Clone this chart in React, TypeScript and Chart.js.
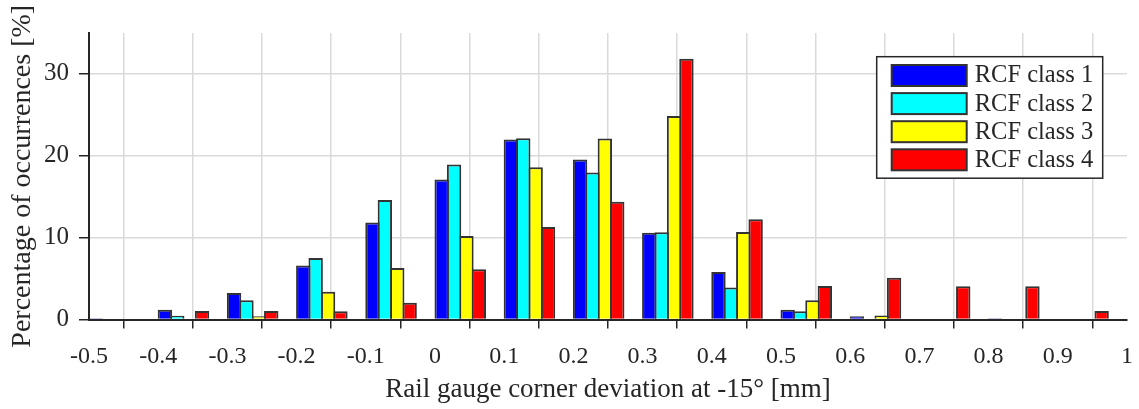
import React, { useEffect, useRef } from 'react';
import { Chart, registerables } from 'chart.js';

Chart.register(...registerables);

// Left edges of the deviation bins [mm]
const binLeftEdges = [-0.5, -0.4, -0.3, -0.2, -0.1, 0, 0.1, 0.2, 0.3, 0.4, 0.5, 0.6, 0.7, 0.8, 0.9];
// Group centre offset from bin left edge [mm]
const groupOffset = 0.0365;

// Percentage of occurrences per RCF class
const rcfClass1 = [0.15, 1.2, 3.25, 6.6, 11.85, 17.1, 22.0, 19.55, 10.6, 5.8, 1.2, 0.4, 0, 0.15, 0];
const rcfClass2 = [0, 0.45, 2.35, 7.5, 14.6, 18.95, 22.15, 17.95, 10.65, 3.9, 1.0, 0, 0, 0, 0];
const rcfClass3 = [0, 0, 0.4, 3.4, 6.3, 10.2, 18.6, 22.1, 24.85, 10.7, 2.35, 0.5, 0, 0, 0];
const rcfClass4 = [0, 1.05, 1.05, 1.0, 2.05, 6.15, 11.3, 14.4, 31.85, 12.25, 4.1, 5.1, 4.05, 4.05, 1.05];

const seriesLabels = ['RCF class 1', 'RCF class 2', 'RCF class 3', 'RCF class 4'];
const seriesColors = ['#0000ff', '#00ffff', '#ffff00', '#ff0000'];

const xTickValues = [-0.5, -0.4, -0.3, -0.2, -0.1, 0, 0.1, 0.2, 0.3, 0.4, 0.5, 0.6, 0.7, 0.8, 0.9, 1];
const xTickLabels = ['-0.5', '-0.4', '-0.3', '-0.2', '-0.1', '0', '0.1', '0.2', '0.3', '0.4', '0.5', '0.6', '0.7', '0.8', '0.9', '1'];
const yTickValues = [0, 10, 20, 30];
const yTickLabels = ['0', '10', '20', '30'];

const xTitle = 'Rail gauge corner deviation at -15\u00b0 [mm]';
const yTitle = 'Percentage of occurrences [%]';

const FONT = '"Liberation Serif", "Times New Roman", serif';
const TEXT = '#262626';

const insideLegend = {
  id: 'insideLegend',
  afterDraw(chart: any) {
    const { ctx, chartArea } = chart;
    const w = 226;
    const h = 121.5;
    const x0 = chartArea.right - 24.3 - w;
    const y0 = chartArea.top + 23.7;
    ctx.save();
    ctx.fillStyle = '#ffffff';
    ctx.fillRect(x0, y0, w, h);
    ctx.strokeStyle = TEXT;
    ctx.lineWidth = 1.5;
    ctx.strokeRect(x0, y0, w, h);
    chart.data.datasets.forEach((ds: any, i: number) => {
      const sy = y0 + 8.3 + i * 28.1;
      const sx = x0 + 15;
      ctx.fillStyle = ds.backgroundColor;
      ctx.fillRect(sx, sy, 75, 21);
      ctx.strokeStyle = '#333333';
      ctx.lineWidth = 2;
      ctx.strokeRect(sx, sy, 75, 21);
      ctx.fillStyle = TEXT;
      ctx.font = `24.5px ${FONT}`;
      ctx.textBaseline = 'middle';
      ctx.textAlign = 'left';
      ctx.fillText(ds.label, sx + 83, sy + 11);
    });
    ctx.restore();
  },
};

export default function App() {
  const canvasRef = useRef<HTMLCanvasElement | null>(null);

  useEffect(() => {
    const canvas = canvasRef.current;
    if (!canvas) return;
    const series = [rcfClass1, rcfClass2, rcfClass3, rcfClass4];
    const chart = new Chart(canvas, {
      type: 'bar',
      data: {
        datasets: series.map((vals, i) => ({
          label: seriesLabels[i],
          data: vals.map((v, k) => ({ x: binLeftEdges[k] + groupOffset, y: v })),
          backgroundColor: seriesColors[i],
          borderColor: '#333333',
          borderWidth: 2,
          categoryPercentage: 0.716,
          barPercentage: 1.162,
        })),
      },
      options: {
        responsive: false,
        animation: false,
        events: [],
        layout: { padding: { top: 33, right: 12, left: 0, bottom: 0 } },
        plugins: {
          legend: { display: false },
          tooltip: { enabled: false },
        },
        scales: {
          x: {
            type: 'linear',
            min: -0.5,
            max: 1,
            offset: false,
            afterBuildTicks: (scale: any) => {
              scale.ticks = xTickValues.map((v) => ({ value: v }));
            },
            afterFit: (scale: any) => {
              scale.height = 89.5;
              scale.paddingLeft = 0;
              scale.paddingRight = 0;
            },
            ticks: {
              autoSkip: false,
              maxRotation: 0,
              padding: 14,
              color: TEXT,
              font: { family: FONT, size: 24 },
              callback: (_v: any, i: number) => xTickLabels[i],
            },
            grid: {
              color: '#dadada',
              lineWidth: 1.5,
              tickColor: TEXT,
              tickLength: 9,
              drawOnChartArea: true,
            },
            border: { color: TEXT, width: 2 },
            title: {
              display: true,
              text: xTitle,
              color: TEXT,
              font: { family: FONT, size: 27 },
              padding: { top: 0, bottom: 3 },
            },
          },
          y: {
            type: 'linear',
            min: 0,
            max: 35,
            afterBuildTicks: (scale: any) => {
              scale.ticks = yTickValues.map((v) => ({ value: v }));
            },
            afterFit: (scale: any) => {
              scale.width = 89;
              scale.paddingTop = 0;
              scale.paddingBottom = 0;
            },
            ticks: {
              padding: 10,
              color: TEXT,
              font: { family: FONT, size: 25 },
              callback: (_v: any, i: number) => yTickLabels[i],
            },
            grid: {
              color: '#dadada',
              lineWidth: 1.5,
              tickColor: TEXT,
              tickLength: 10,
            },
            border: { color: TEXT, width: 2 },
            title: {
              display: true,
              text: yTitle,
              color: TEXT,
              font: { family: FONT, size: 28 },
              padding: { top: 6, bottom: 0 },
            },
          },
        },
      },
      plugins: [insideLegend],
    } as any);
    return () => chart.destroy();
  }, []);

  return (
    <div style={{ position: 'absolute', left: 0, top: 0, width: 1139, height: 409, background: '#ffffff' }}>
      <canvas ref={canvasRef} width={1139} height={409} style={{ display: 'block' }} />
    </div>
  );
}
